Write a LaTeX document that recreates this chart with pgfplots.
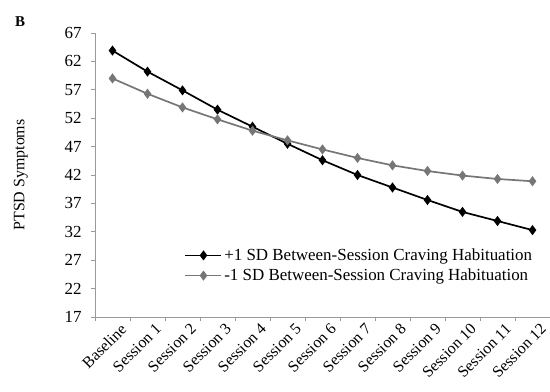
\documentclass[border=0pt]{standalone}
\usepackage{pgfplots}
\pgfplotsset{compat=1.18}
\usepackage{fontspec}
\setmainfont{Liberation Serif}
\definecolor{sergray}{HTML}{767676}
\definecolor{axgray}{HTML}{9A9A9A}
\begin{document}
\begin{tikzpicture}
\useasboundingbox (-95bp,-75bp) rectangle (455bp,317bp);
\begin{axis}[
  at={(0,0)}, anchor=south west,
  scale only axis, width=455bp, height=284bp,
  xmin=-0.5, xmax=12.5, ymin=17, ymax=67,
  axis lines=left, axis line style={axgray, line width=0.8pt, -},
  xtick={0,...,12},
  xticklabels={Baseline,Session 1,Session 2,Session 3,Session 4,Session 5,Session 6,Session 7,Session 8,Session 9,Session 10,Session 11,Session 12},
  minor xtick={-0.5,0.5,...,12.5},
  major x tick style={draw=none},
  minor tick length=4bp,
  minor x tick style={axgray, line width=0.8pt},
  x tick label style={rotate=45, anchor=north east, font=\fontsize{16}{16}\selectfont, inner sep=0pt, yshift=-6bp, xshift=4bp},
  ytick={17,22,...,67},
  y tick style={axgray, line width=0.8pt},
  major tick length=4bp,
  tick align=outside,
  y tick label style={font=\fontsize{17}{17}\selectfont, xshift=-6bp},
  /pgf/number format/assume math mode=true,
  ylabel={PTSD Symptoms},
  ylabel style={font=\fontsize{16}{16}\selectfont, at={(axis description cs:-0.14,0.5)}},
  legend style={draw=none, fill=none, at={(0.19,0.255)}, anchor=north west, font=\fontsize{17}{17}\selectfont, row sep=3bp},
  legend cell align=left,
  legend image code/.code={\draw[mark repeat=2, mark phase=2, #1] plot coordinates {(0bp,0bp) (18bp,0bp) (36bp,0bp)};},
  clip=false,
]
\addplot[black, line width=1.7pt, mark=diamond*, mark size=3.7bp, mark options={fill=black}] coordinates {
 (0,63.9) (1,60.2) (2,56.9) (3,53.5) (4,50.5) (5,47.5) (6,44.6) (7,42.0) (8,39.8) (9,37.6) (10,35.5) (11,33.9) (12,32.3)};
\addlegendentry{+1 SD Between-Session Craving Habituation}
\addplot[sergray, line width=1.7pt, mark=diamond*, mark size=3.7bp, mark options={fill=sergray}] coordinates {
 (0,59.0) (1,56.3) (2,53.9) (3,51.8) (4,49.8) (5,48.1) (6,46.5) (7,45.0) (8,43.7) (9,42.7) (10,41.9) (11,41.3) (12,40.9)};
\addlegendentry{-1 SD Between-Session Craving Habituation}
\end{axis}
\node[font=\bfseries\fontsize{15}{15}\selectfont] at (-75bp,295bp) {B};
\end{tikzpicture}
\end{document}
